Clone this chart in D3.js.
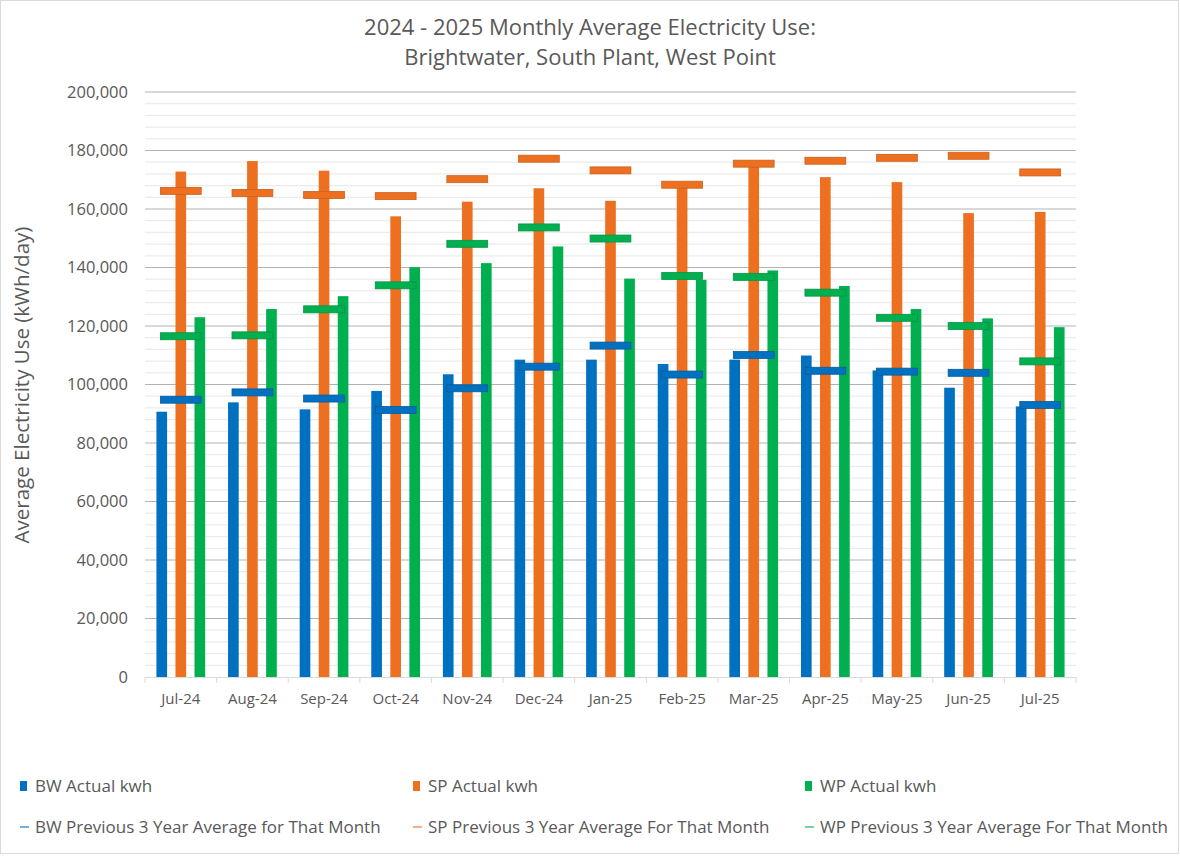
<!DOCTYPE html>
<html lang="en">
<head>
  <meta charset="UTF-8">
  <title>2024 - 2025 Monthly Average Electricity Use</title>
  <script src="https://d3js.org/d3.v7.min.js"></script>
  <style>
    body{margin:0;background:#fff;font-family:"Open Sans",Arial,sans-serif}
    #chart svg{display:block}
    .tick-label{fill:#595959;font-size:16.5px}
    .x-label{fill:#595959;font-size:15px}
    .legend-text{fill:#595959;font-size:17px}
  </style>
</head>
<body>
<div id="chart"></div>
<script>
/* --- data --- */
const months=["Jul-24","Aug-24","Sep-24","Oct-24","Nov-24","Dec-24","Jan-25",
              "Feb-25","Mar-25","Apr-25","May-25","Jun-25","Jul-25"];
const bwActual=[90700,93900,91500,97800,103500,108500,108500,107000,108500,109900,104800,98900,92500];
const spActual=[172800,176400,173100,157500,162500,167100,162800,167200,174500,170900,169200,158600,159000];
const wpActual=[123000,125800,130200,140100,141500,147200,136200,135800,139000,133700,125800,122600,119600];
const bwAvg=[94800,97300,95200,91300,98700,106100,113300,103400,110100,104700,104400,104000,93000];
const spAvg=[166200,165500,164800,164400,170200,177200,173200,168300,175500,176500,177500,178200,172500];
const wpAvg=[116500,116800,125700,133900,148100,153700,149900,137100,136800,131400,122800,120000,107900];
const yTicks=d3.range(0,200001,20000);

const series=[
  {key:"BW",actual:bwActual,avg:bwAvg,color:"#0070c0",edge:"#0b5b99",
   barName:"BW Actual kwh",avgName:"BW Previous 3 Year Average for That Month"},
  {key:"SP",actual:spActual,avg:spAvg,color:"#ed7021",edge:"#c9601f",
   barName:"SP Actual kwh",avgName:"SP Previous 3 Year Average For That Month"},
  {key:"WP",actual:wpActual,avg:wpAvg,color:"#00b050",edge:"#0a9146",
   barName:"WP Actual kwh",avgName:"WP Previous 3 Year Average For That Month"}
];

/* --- sizes --- */
const width=1180,height=856,
      plotL=145,plotR=1076,plotT=92,plotB=677;

const svg=d3.select("#chart").append("svg")
  .attr("width",width).attr("height",height);

svg.append("rect").attr("x",0.5).attr("y",0.5)
   .attr("width",width-2).attr("height",height-3)
   .attr("fill","#fff").attr("stroke","#d9d9d9");

const x=d3.scaleBand().domain(months).range([plotL,plotR]);
const x1=d3.scaleBand().domain(series.map(s=>s.key))
  .range([0,x.bandwidth()]).paddingInner(0.44).paddingOuter(0.6);
const y=d3.scaleLinear().domain([0,200000]).range([plotB,plotT]);

/* --- gridlines --- */
svg.append("g").selectAll("line")
  .data(d3.range(4000,200001,4000).filter(v=>v%20000!==0))
  .join("line")
  .attr("x1",plotL).attr("x2",plotR)
  .attr("y1",d=>y(d)).attr("y2",d=>y(d))
  .attr("stroke","#ebebeb").attr("stroke-width",1.3);

svg.append("g").selectAll("line")
  .data(yTicks.filter(v=>v>0))
  .join("line")
  .attr("x1",plotL).attr("x2",plotR)
  .attr("y1",d=>y(d)).attr("y2",d=>y(d))
  .attr("stroke","#b3b3b3").attr("stroke-width",1);

/* --- y axis labels --- */
svg.append("g").selectAll("text")
  .data(yTicks).join("text")
  .attr("class","tick-label")
  .attr("x",128).attr("y",d=>y(d)).attr("dy","0.36em")
  .attr("text-anchor","end")
  .text(d=>d3.format(",")(d));

svg.append("text")
  .attr("transform","translate(29,385) rotate(-90)")
  .attr("text-anchor","middle").attr("fill","#595959")
  .style("font-size","20.5px")
  .text("Average Electricity Use (kWh/day)");

/* --- bars --- */
series.forEach(s=>{
  svg.append("g").selectAll("rect")
    .data(months.map((m,i)=>({m,v:s.actual[i]})))
    .join("rect")
    .attr("x",d=>x(d.m)+x1(s.key))
    .attr("width",x1.bandwidth())
    .attr("y",d=>y(d.v))
    .attr("height",d=>y(0)-y(d.v))
    .attr("fill",s.color);
});

/* --- x axis --- */
svg.append("line").attr("x1",plotL).attr("x2",plotR)
   .attr("y1",plotB+0.5).attr("y2",plotB+0.5)
   .attr("stroke","#d9d9d9");
svg.append("g").selectAll("line")
  .data(d3.range(months.length+1))
  .join("line")
  .attr("x1",i=>plotL+i*x.step()).attr("x2",i=>plotL+i*x.step())
  .attr("y1",plotB).attr("y2",plotB+6)
  .attr("stroke","#d9d9d9");
svg.append("g").selectAll("text")
  .data(months).join("text")
  .attr("class","x-label")
  .attr("x",d=>x(d)+x.bandwidth()/2).attr("y",704)
  .attr("text-anchor","middle")
  .text(d=>d);

/* --- dash markers for the 3 year averages --- */
const mw=x.bandwidth()*0.57,mh=7;
series.forEach(s=>{
  svg.append("g").selectAll("rect")
    .data(months.map((m,i)=>({m,v:s.avg[i]})))
    .join("rect")
    .attr("x",d=>x(d.m)+x.bandwidth()/2-mw/2)
    .attr("y",d=>y(d.v)-mh/2)
    .attr("width",mw).attr("height",mh)
    .attr("fill",s.color)
    .attr("stroke",s.edge).attr("stroke-width",0.8);
});

/* --- title --- */
const title=svg.append("text").attr("text-anchor","middle")
  .attr("fill","#595959").style("font-size","22px");
title.append("tspan").attr("x",590).attr("y",35)
  .text("2024 - 2025 Monthly Average Electricity Use:");
title.append("tspan").attr("x",590).attr("y",65)
  .text("Brightwater, South Plant, West Point");

/* --- legend --- */
const legX=[20,413,805];
series.forEach((s,i)=>{
  const g=svg.append("g").attr("transform",`translate(${legX[i]},0)`);
  g.append("rect").attr("x",0).attr("y",781).attr("width",7).attr("height",10)
   .attr("fill",s.color);
  g.append("text").attr("class","legend-text")
   .attr("x",15).attr("y",786).attr("dy","0.36em").text(s.barName);
  g.append("rect").attr("x",0).attr("y",826).attr("width",9).attr("height",2)
   .attr("fill",s.color).attr("opacity",0.55);
  g.append("text").attr("class","legend-text")
   .attr("x",15).attr("y",827).attr("dy","0.36em").text(s.avgName);
});
</script>
</body>
</html>
